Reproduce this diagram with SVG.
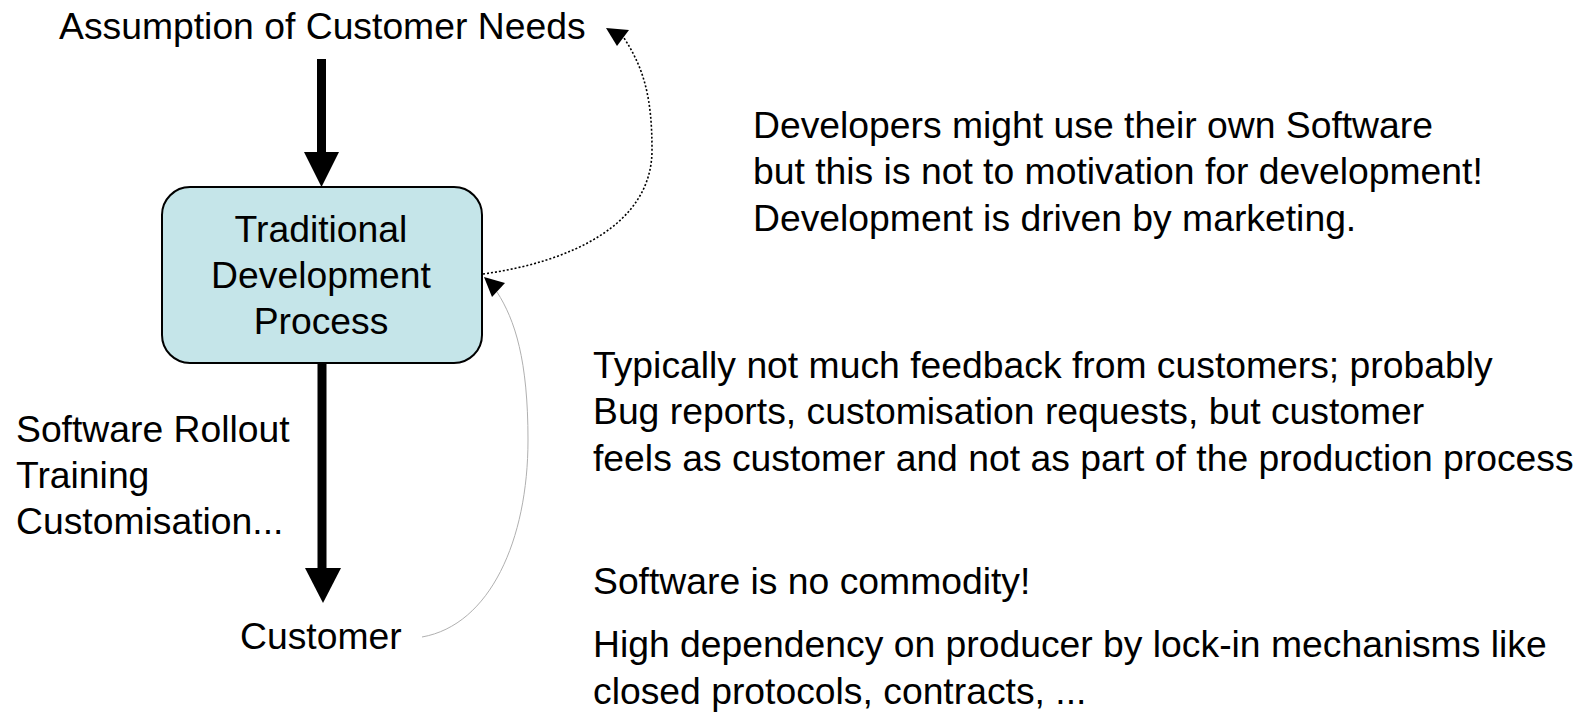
<svg xmlns="http://www.w3.org/2000/svg" width="1581" height="712" viewBox="0 0 1581 712">
<style>
text{font-family:"Liberation Sans",Arial,sans-serif;font-size:37.3px;fill:#000}
.c{text-anchor:middle}
.shaft{stroke:#000;stroke-width:9;fill:none}
.head{fill:#000}
.dot{stroke:#000;stroke-width:1.6;stroke-dasharray:2 2;fill:none}
.thin{stroke:#b0b0b0;stroke-width:1;fill:none}
</style>
<rect width="1581" height="712" fill="#fff"/>
<g id="connectors">
<line class="shaft" x1="321.5" y1="59" x2="321.5" y2="154"/>
<polygon class="head" points="304,152 339,152 321.5,187"/>
<line class="shaft" x1="322" y1="362" x2="322" y2="570"/>
<polygon class="head" points="305,568 341,568 323,603"/>
<path class="dot" d="M483,274 C570,262 652,225 652,150 C652,100 645,70 624,38"/>
<polygon class="head" points="606,28 629,30 617,46"/>
<path class="thin" d="M422,637 C490,625 528,540 528,440 C528,360 515,320 497,292"/>
<polygon class="head" points="484,277 505,283 492,297"/>
</g>
<g id="node-assumption">
<text x="59" y="39">Assumption of Customer Needs</text>
</g>
<g id="node-process">
<rect x="162" y="187" width="320" height="176" rx="28" ry="28" fill="#c5e5e9" stroke="#000" stroke-width="2"/>
<text class="c" x="321" y="242">Traditional</text>
<text class="c" x="321" y="288">Development</text>
<text class="c" x="321" y="334">Process</text>
</g>
<g id="node-customer">
<text x="240" y="649">Customer</text>
</g>
<g id="label-rollout">
<text x="16" y="442">Software Rollout</text>
<text x="16" y="488">Training</text>
<text x="16" y="534">Customisation...</text>
</g>
<g id="note-developers">
<text x="753" y="138">Developers might use their own Software</text>
<text x="753" y="184">but this is not to motivation for development!</text>
<text x="753" y="230.5">Development is driven by marketing.</text>
</g>
<g id="note-feedback">
<text x="593" y="378">Typically not much feedback from customers; probably</text>
<text x="593" y="424">Bug reports, customisation requests, but customer</text>
<text x="593" y="470.5">feels as customer and not as part of the production process</text>
<text x="593" y="593.5">Software is no commodity!</text>
<text x="593" y="657">High dependency on producer by lock-in mechanisms like</text>
<text x="593" y="703.5">closed protocols, contracts, ...</text>
</g>
</svg>
